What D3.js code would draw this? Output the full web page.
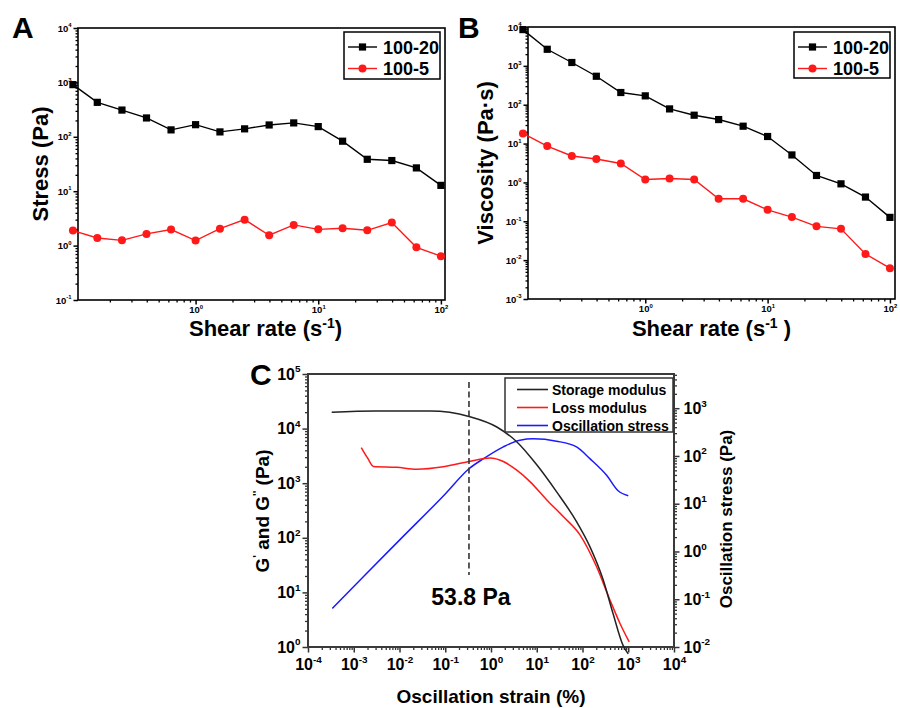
<!DOCTYPE html>
<html>
<head>
<meta charset="utf-8">
<script src="https://cdn.jsdelivr.net/npm/d3@7"></script>
<style>
  body { margin: 0; background: #fff; }
  svg { font-family: "Liberation Sans", Arial, sans-serif; font-weight: bold; }
</style>
</head>
<body>
<svg width="900" height="708"></svg>
<script>
// shear sweep (panels A and B)
const shearRate = [0.1, 0.158, 0.251, 0.398, 0.631, 1, 1.58, 2.51, 3.98, 6.31, 10, 15.8, 25.1, 39.8, 63.1, 100];
const stress20 = [910, 430, 310, 222, 134, 167, 123, 140, 165, 180, 154, 83, 38.6, 36.6, 26.8, 12.8];
const stress5 = [1.89, 1.38, 1.25, 1.64, 1.97, 1.24, 2.05, 3.0, 1.55, 2.4, 1.99, 2.08, 1.91, 2.65, 0.93, 0.64];
const visc20 = [8570, 2670, 1220, 540, 206, 169, 78, 53.7, 41.5, 28, 15.2, 5.1, 1.51, 0.92, 0.42, 0.126];
const visc5 = [18.2, 8.6, 4.8, 4.0, 3.07, 1.19, 1.26, 1.19, 0.38, 0.38, 0.197, 0.128, 0.074, 0.064, 0.0144, 0.0062];
const seriesNames = ['100-20', '100-5'];

// amplitude sweep (panel C)
const storageStrain = [3.3e-4, 0.003, 0.047, 0.33, 1.34, 3.6, 10, 27, 74, 145, 283, 465, 770, 1000];
const storageG = [2.0e4, 2.1e4, 2.1e4, 1.67e4, 1.07e4, 5.8e3, 2.17e3, 700, 198, 69, 17, 4.1, 1.07, 0.75];
const lossStrain = [1.46e-3, 2.0e-3, 2.7e-3, 8.7e-3, 0.024, 0.091, 0.33, 0.95, 1.86, 3.6, 7.1, 16.6, 38, 88, 203, 400, 660, 1050];
const lossG = [4500, 2900, 2020, 1950, 1800, 2000, 2500, 2900, 2500, 1750, 1070, 494, 245, 113, 29.5, 7.2, 2.7, 1.24];
const oscStrain = [3.4e-4, 1.64e-3, 0.01, 0.1, 0.33, 0.69, 1.86, 4.3, 8.4, 27, 74, 145, 340, 600, 1000];
const oscStress = [0.064, 0.30, 1.73, 16, 54, 88, 155, 214, 228, 204, 155, 88, 39, 18.7, 14.7];
const modulusNames = ['Storage modulus', 'Loss modulus', 'Oscillation stress'];
const yieldStrain = 0.33;
const yieldLabel = '53.8 Pa';

const RED = '#ff1a1a', BLUE = '#1a1aff';
const svg = d3.select('svg');

function minorTicks(domain) {
  const out = [];
  const lo = Math.floor(Math.log10(domain[0])), hi = Math.ceil(Math.log10(domain[1]));
  for (let e = lo; e < hi; e++)
    for (let m = 2; m <= 9; m++) {
      const v = m * Math.pow(10, e);
      if (v >= domain[0] && v <= domain[1]) out.push(v);
    }
  return out;
}
function majorTicks(domain) {
  const out = [];
  for (let e = Math.ceil(Math.log10(domain[0]) - 1e-9); e <= Math.floor(Math.log10(domain[1]) + 1e-9); e++) out.push(Math.pow(10, e));
  return out;
}

// axis with 10^n labels and minor ticks; side = 'left' | 'right' | 'bottom'
function logAxis(scale, side, pos, o) {
  const make = side === 'left' ? d3.axisLeft : side === 'right' ? d3.axisRight : d3.axisBottom;
  const tr = side === 'bottom' ? `translate(0,${pos})` : `translate(${pos},0)`;
  svg.append('g').attr('transform', tr)
    .call(make(scale).tickValues(minorTicks(scale.domain())).tickSize(o.minor).tickFormat(''))
    .call(g => g.select('.domain').remove())
    .call(g => g.selectAll('line').attr('stroke', o.color).attr('stroke-width', 1.3));
  const g = svg.append('g').attr('transform', tr)
    .call(make(scale).tickValues(majorTicks(scale.domain())).tickSize(o.major).tickPadding(o.pad))
    .call(g => g.select('.domain').remove())
    .call(g => g.selectAll('line').attr('stroke', o.color).attr('stroke-width', 1.5));
  g.selectAll('.tick text')
    .attr('font-family', 'Liberation Sans, Arial, sans-serif')
    .attr('font-weight', 'bold')
    .attr('font-size', o.font)
    .attr('fill', '#000')
    .each(function(d) {
      const t = d3.select(this);
      t.text('10');
      t.append('tspan').attr('dy', -o.font * 0.45).attr('font-size', o.font * 0.62).text(Math.round(Math.log10(d)));
    });
}

function frame(x, y, stroke, w) {
  svg.append('rect')
    .attr('x', x.range()[0]).attr('y', y.range()[1])
    .attr('width', x.range()[1] - x.range()[0])
    .attr('height', y.range()[0] - y.range()[1])
    .attr('fill', 'none').attr('stroke', stroke).attr('stroke-width', w);
}

function marker(g, type, cx, cy, color) {
  if (type === 'square')
    g.append('rect').attr('x', cx - 3.6).attr('y', cy - 3.6).attr('width', 7.2).attr('height', 7.2).attr('fill', color);
  else
    g.append('circle').attr('cx', cx).attr('cy', cy).attr('r', 4).attr('fill', color);
}

function shearPanel(o) {
  const x = d3.scaleLog().domain(o.xDomain).range(o.xRange);
  const y = d3.scaleLog().domain(o.yDomain).range(o.yRange);
  const tickOpt = { major: 4.5, minor: 2.5, pad: 2, font: 9.5, color: '#000' };
  logAxis(x, 'bottom', o.yRange[0], tickOpt);
  logAxis(y, 'left', o.xRange[0], tickOpt);
  frame(x, y, '#000', 1.6);

  const line = d3.line().x(d => x(d[0])).y(d => y(d[1]));
  o.series.forEach((s, k) => {
    const pts = shearRate.map((r, i) => [r, s.values[i]]);
    svg.append('path').datum(pts).attr('d', line)
      .attr('fill', 'none').attr('stroke', s.color).attr('stroke-width', 1.4);
    const mg = svg.append('g');
    pts.forEach(p => marker(mg, s.marker, x(p[0]), y(p[1]), s.color));
  });

  // legend
  const L = o.legend;
  svg.append('rect').attr('x', L.x).attr('y', L.y).attr('width', L.w).attr('height', L.h)
    .attr('fill', '#fff').attr('stroke', '#000').attr('stroke-width', 1.5);
  o.series.forEach((s, k) => {
    const cy = L.y + 15 + k * 21.5;
    svg.append('line').attr('x1', L.x + 4).attr('x2', L.x + 33).attr('y1', cy).attr('y2', cy)
      .attr('stroke', s.color).attr('stroke-width', 1.4);
    marker(svg, s.marker, L.x + 18.5, cy, s.color);
    svg.append('text').attr('x', L.x + 39).attr('y', cy + 6.5)
      .attr('font-size', 18).text(seriesNames[k]);
  });

  // titles
  svg.append('text').attr('transform', `translate(${o.yTitleX},${(o.yRange[0] + o.yRange[1]) / 2}) rotate(-90)`)
    .attr('text-anchor', 'middle').attr('font-size', 22).attr('dy', 8).text(o.yTitle);
  const xt = svg.append('text').attr('x', (o.xRange[0] + o.xRange[1]) / 2 + o.xTitleShift).attr('y', 336)
    .attr('text-anchor', 'middle').attr('font-size', 22);
  xt.append('tspan').text('Shear rate (s');
  xt.append('tspan').attr('dy', -8).attr('font-size', 14).text('-1');
  xt.append('tspan').attr('dy', 8).text(o.xTitleEnd);
  svg.append('text').attr('x', o.letterX).attr('y', 38).attr('font-size', 30).text(o.letter);
}

shearPanel({
  letter: 'A', letterX: 12,
  xDomain: [0.11, 108], xRange: [78, 445],
  yDomain: [0.1, 1e4], yRange: [300, 28],
  series: [
    { values: stress20, color: '#000', marker: 'square' },
    { values: stress5, color: RED, marker: 'circle' }
  ],
  legend: { x: 344, y: 32, w: 96, h: 47 },
  yTitle: 'Stress (Pa)', yTitleX: 40,
  xTitleShift: 4, xTitleEnd: ')'
});

shearPanel({
  letter: 'B', letterX: 458,
  xDomain: [0.11, 110], xRange: [528, 895],
  yDomain: [1e-3, 1e4], yRange: [299, 27],
  series: [
    { values: visc20, color: '#000', marker: 'square' },
    { values: visc5, color: RED, marker: 'circle' }
  ],
  legend: { x: 794, y: 32, w: 96, h: 46 },
  yTitle: 'Viscosity (Pa\u00b7s)', yTitleX: 485,
  xTitleShift: 0, xTitleEnd: ' )'
});

// panel C
const xC = d3.scaleLog().domain([1e-4, 1e4]).range([308, 674]);
const yL = d3.scaleLog().domain([1, 1e5]).range([647, 374]);
const yR = d3.scaleLog().domain([0.01, 5200]).range([647, 374]);
const cTick = { major: 5.5, minor: 3, pad: 6, font: 16, color: '#333' };
logAxis(xC, 'bottom', 647, cTick);
logAxis(yL, 'left', 308, { ...cTick, pad: 2 });
logAxis(yR, 'right', 674, { ...cTick, pad: 4 });
frame(xC, yL, '#3a3a3a', 2);

const curveLine = (ys) => d3.line().curve(d3.curveMonotoneX).x(d => xC(d[0])).y(d => ys(d[1]));
svg.append('path').datum(oscStrain.map((v, i) => [v, oscStress[i]])).attr('d', curveLine(yR))
  .attr('fill', 'none').attr('stroke', BLUE).attr('stroke-width', 1.5);
svg.append('path').datum(lossStrain.map((v, i) => [v, lossG[i]])).attr('d', curveLine(yL))
  .attr('fill', 'none').attr('stroke', RED).attr('stroke-width', 1.5);
svg.append('path').datum(storageStrain.map((v, i) => [v, storageG[i]])).attr('d', curveLine(yL))
  .attr('fill', 'none').attr('stroke', '#222').attr('stroke-width', 1.5);

svg.append('line').attr('x1', xC(yieldStrain)).attr('x2', xC(yieldStrain)).attr('y1', 382).attr('y2', 575)
  .attr('stroke', '#333').attr('stroke-width', 1.6).attr('stroke-dasharray', '6,3.5');
svg.append('text').attr('x', xC(yieldStrain) + 2).attr('y', 605).attr('text-anchor', 'middle')
  .attr('font-size', 23).text(yieldLabel);

// legend C
svg.append('rect').attr('x', 505).attr('y', 378).attr('width', 168).attr('height', 54)
  .attr('fill', '#fff').attr('stroke', '#333').attr('stroke-width', 1.5);
[ '#222', RED, BLUE ].forEach((c, k) => {
  const cy = 389.5 + k * 18;
  svg.append('line').attr('x1', 517).attr('x2', 548).attr('y1', cy).attr('y2', cy)
    .attr('stroke', c).attr('stroke-width', 1.6);
  svg.append('text').attr('x', 552).attr('y', cy + 5).attr('font-size', 14).text(modulusNames[k]);
});

// titles C
const ytl = svg.append('text').attr('transform', `translate(262,511) rotate(-90)`)
  .attr('text-anchor', 'middle').attr('font-size', 19).attr('dy', 7);
ytl.append('tspan').text('G');
ytl.append('tspan').attr('dy', -8).attr('font-size', 11).text("'");
ytl.append('tspan').attr('dy', 8).text(' and G');
ytl.append('tspan').attr('dy', -8).attr('font-size', 11).text("''");
ytl.append('tspan').attr('dy', 8).text(' (Pa)');
svg.append('text').attr('transform', `translate(726,519) rotate(-90)`)
  .attr('text-anchor', 'middle').attr('font-size', 17).attr('dy', 6).text('Oscillation stress (Pa)');
svg.append('text').attr('x', 491).attr('y', 703).attr('text-anchor', 'middle')
  .attr('font-size', 19).text('Oscillation strain (%)');
svg.append('text').attr('x', 250).attr('y', 385).attr('font-size', 30).text('C');
</script>
</body>
</html>
